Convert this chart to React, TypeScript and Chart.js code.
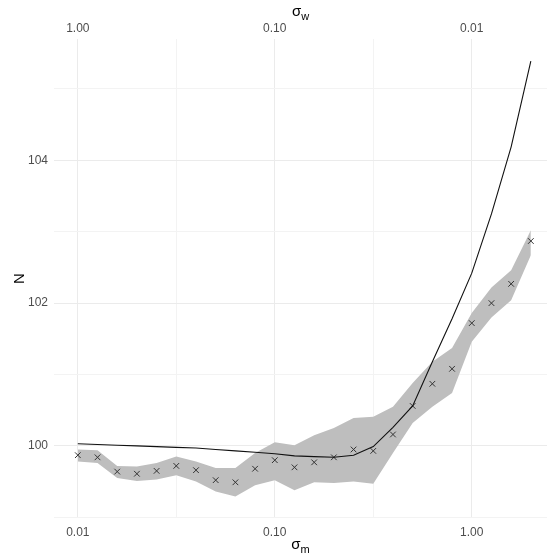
import React, { useEffect, useRef } from "react";
import { Chart, registerables } from "chart.js";

Chart.register(...registerables);

// sigma_m values (log spaced, 10 per decade from 0.01 to 2)
const sigmaM = [
  0.01, 0.01259, 0.01585, 0.01995, 0.02512, 0.03162, 0.03981, 0.05012, 0.0631, 0.07943,
  0.1, 0.1259, 0.1585, 0.1995, 0.2512, 0.3162, 0.3981, 0.5012, 0.631, 0.7943,
  1.0, 1.259, 1.585, 1.995,
];
const markerN = [
  99.87, 99.84, 99.64, 99.61, 99.65, 99.72, 99.66, 99.52, 99.49, 99.68,
  99.8, 99.7, 99.77, 99.84, 99.95, 99.93, 100.16, 100.56, 100.87, 101.08,
  101.72, 102.0, 102.27, 102.87,
];
const bandUpper = [
  99.95, 99.94, 99.72, 99.71, 99.76, 99.85, 99.78, 99.69, 99.69, 99.9,
  100.05, 100.01, 100.15, 100.25, 100.39, 100.41, 100.55, 100.88, 101.18, 101.37,
  101.86, 102.22, 102.46, 103.02,
];
const bandLower = [
  99.78, 99.76, 99.55, 99.51, 99.53, 99.59, 99.5, 99.36, 99.29, 99.45,
  99.52, 99.38, 99.49, 99.48, 99.5, 99.47, 99.9, 100.32, 100.55, 100.74,
  101.46, 101.8, 102.04, 102.67,
];
const theoryN = [
  100.03, 100.02, 100.01, 100.0, 99.99, 99.98, 99.97, 99.95, 99.93, 99.91,
  99.89, 99.86, 99.85, 99.84, 99.87, 99.99, 100.26, 100.56, 101.18, 101.78,
  102.42, 103.25, 104.19, 105.39,
];

const xMajorTicks = [0.01, 0.1, 1];
const xMinorTicks = [0.03162, 0.3162];
const xTickLabels = ["0.01", "0.10", "1.00"];
const topTickValues = [0.01, 0.1, 1];
const topTickLabels = ["0.01", "0.10", "1.00"];
const yMajorTicks = [100, 102, 104];
const yMinorTicks = [99, 101, 103, 105];

const X_MIN = 0.00757;
const X_MAX = 2.41;
const Y_MIN = 98.99;
const Y_MAX = 105.7;

const FONT = "'Liberation Sans', Arial, sans-serif";
const TICK_COLOR = "#4d4d4d";

const pts = (ys: number[]) => sigmaM.map((x, i) => ({ x, y: ys[i] }));

const titlePlugin = {
  id: "subTitles",
  afterDraw(chart: any) {
    const ctx = chart.ctx;
    const area = chart.chartArea;
    const cx = (area.left + area.right) / 2;
    ctx.save();
    ctx.fillStyle = "#000";
    ctx.textBaseline = "alphabetic";
    const drawSub = (main: string, sub: string, x: number, y: number) => {
      ctx.font = `15px ${FONT}`;
      const w1 = ctx.measureText(main).width;
      ctx.font = `11px ${FONT}`;
      const w2 = ctx.measureText(sub).width;
      const start = x - (w1 + w2) / 2;
      ctx.font = `15px ${FONT}`;
      ctx.textAlign = "left";
      ctx.fillText(main, start, y);
      ctx.font = `11px ${FONT}`;
      ctx.fillText(sub, start + w1, y + 4);
    };
    drawSub("σ", "w", cx, 16);
    drawSub("σ", "m", cx, 549);
    ctx.translate(24, (area.top + area.bottom) / 2);
    ctx.rotate(-Math.PI / 2);
    ctx.font = `15px ${FONT}`;
    ctx.textAlign = "center";
    ctx.fillText("N", 0, 0);
    ctx.restore();
  },
};

export default function App() {
  const ref = useRef<HTMLCanvasElement>(null);
  useEffect(() => {
    document.body.style.margin = "0";
    const canvas = ref.current;
    if (!canvas) return;
    const chart = new Chart(canvas, {
      type: "scatter",
      data: {
        datasets: [
          {
            label: "theory",
            data: pts(theoryN),
            showLine: true,
            borderColor: "#111",
            borderWidth: 1.1,
            pointRadius: 0,
            fill: false,
            order: 0,
          } as any,
          {
            label: "sim",
            data: pts(markerN),
            showLine: false,
            pointStyle: "crossRot",
            pointRadius: 4,
            borderColor: "#333",
            borderWidth: 1,
            order: 1,
          } as any,
          {
            label: "upper",
            data: pts(bandUpper),
            showLine: true,
            borderWidth: 0,
            borderColor: "rgba(0,0,0,0)",
            backgroundColor: "#bebebe",
            pointRadius: 0,
            fill: "+1",
            order: 2,
          } as any,
          {
            label: "lower",
            data: pts(bandLower),
            showLine: true,
            borderWidth: 0,
            borderColor: "rgba(0,0,0,0)",
            pointRadius: 0,
            fill: false,
            order: 3,
          } as any,
        ],
      },
      options: {
        responsive: false,
        animation: false,
        layout: { padding: 0 },
        plugins: {
          legend: { display: false },
          tooltip: { enabled: false },
          filler: { drawTime: "beforeDatasetsDraw" } as any,
        },
        scales: {
          x: {
            type: "logarithmic",
            position: "bottom",
            min: X_MIN,
            max: X_MAX,
            border: { display: false },
            afterBuildTicks: (s: any) => {
              s.ticks = [...xMajorTicks, ...xMinorTicks]
                .sort((a, b) => a - b)
                .map((v) => ({ value: v }));
            },
            afterFit: (s: any) => {
              s.height = 37;
            },
            grid: {
              drawTicks: false,
              color: (c: any) =>
                xMajorTicks.includes(c.tick?.value) ? "#ebebeb" : "#f3f3f3",
              lineWidth: 1,
            },
            ticks: {
              padding: 7,
              color: TICK_COLOR,
              font: { family: FONT, size: 12 },
              maxRotation: 0,
              autoSkip: false,
              callback: (v: any) => {
                const i = xMajorTicks.indexOf(Number(v));
                return i >= 0 ? xTickLabels[i] : "";
              },
            },
          } as any,
          x2: {
            type: "logarithmic",
            axis: "x",
            position: "top",
            reverse: true,
            min: 0.01 / X_MAX,
            max: 0.01 / X_MIN,
            border: { display: false },
            afterBuildTicks: (s: any) => {
              s.ticks = topTickValues.map((v) => ({ value: v }));
            },
            afterFit: (s: any) => {
              s.height = 39;
            },
            grid: { display: false, drawTicks: false },
            ticks: {
              padding: 3,
              color: TICK_COLOR,
              font: { family: FONT, size: 12 },
              maxRotation: 0,
              autoSkip: false,
              callback: (v: any) => {
                const i = topTickValues.indexOf(Number(v));
                return i >= 0 ? topTickLabels[i] : "";
              },
            },
          } as any,
          y: {
            type: "linear",
            min: Y_MIN,
            max: Y_MAX,
            border: { display: false },
            afterBuildTicks: (s: any) => {
              s.ticks = [...yMajorTicks, ...yMinorTicks]
                .sort((a, b) => a - b)
                .map((v) => ({ value: v }));
            },
            afterFit: (s: any) => {
              s.width = 54;
            },
            grid: {
              drawTicks: false,
              color: (c: any) =>
                yMajorTicks.includes(c.tick?.value) ? "#ebebeb" : "#f3f3f3",
              lineWidth: 1,
            },
            ticks: {
              padding: 6,
              color: TICK_COLOR,
              font: { family: FONT, size: 12 },
              autoSkip: false,
              callback: (v: any) =>
                yMajorTicks.includes(Number(v)) ? String(v) : "",
            },
          } as any,
        },
      },
      plugins: [titlePlugin],
    });
    return () => chart.destroy();
  }, []);
  return <canvas ref={ref} width={552} height={555} style={{ display: "block" }} />;
}
